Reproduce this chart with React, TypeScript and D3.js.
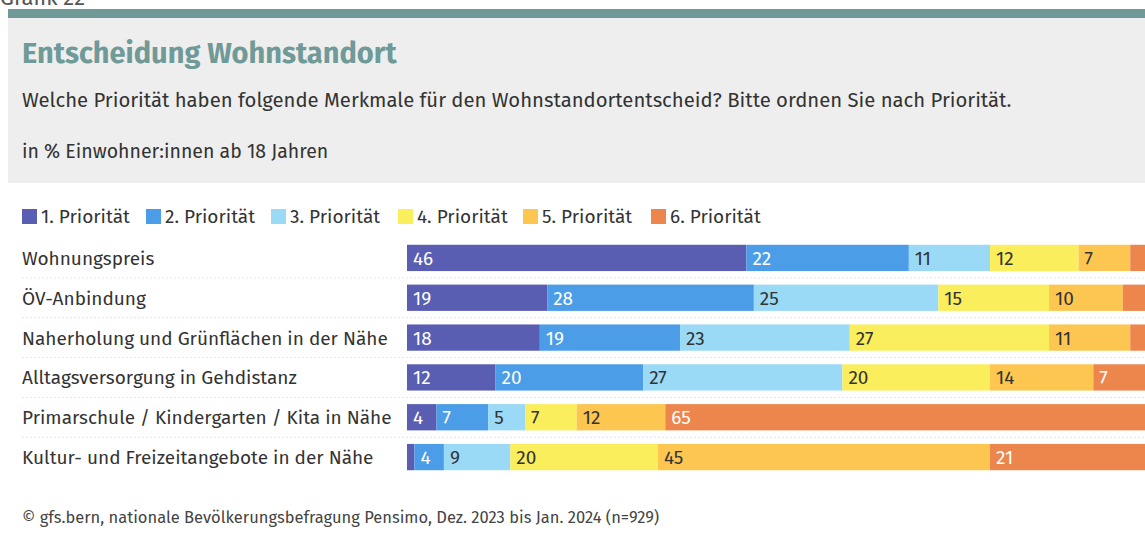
import * as d3 from "d3"

const categories = [
  "Wohnungspreis",
  "ÖV-Anbindung",
  "Naherholung und Grünflächen in der Nähe",
  "Alltagsversorgung in Gehdistanz",
  "Primarschule / Kindergarten / Kita in Nähe",
  "Kultur- und Freizeitangebote in der Nähe",
]
const seriesNames = ["1. Priorität", "2. Priorität", "3. Priorität", "4. Priorität", "5. Priorität", "6. Priorität"]
const prio1 = [46, 19, 18, 12, 4, 1]
const prio2 = [22, 28, 19, 20, 7, 4]
const prio3 = [11, 25, 23, 27, 5, 9]
const prio4 = [12, 15, 27, 20, 7, 20]
const prio5 = [7, 10, 11, 14, 12, 45]
const prio6 = [2, 3, 2, 7, 65, 21]

const colors = ["#5a5eb3", "#4a9de6", "#9adaf6", "#faee5c", "#fcc650", "#ec864c"]
const labelColors = ["#fff", "#fff", "#333", "#333", "#333", "#fff"]

const font = "'Fira Sans', 'Noto Sans', sans-serif"

export default function App() {
  const W = 1145
  const H = 541
  const allSeries = [prio1, prio2, prio3, prio4, prio5, prio6]
  const rows = categories.map((c, i) => {
    const r: Record<string, number | string> = { cat: c }
    seriesNames.forEach((s, j) => (r[s] = allSeries[j][i]))
    return r
  })
  const stack = d3.stack<Record<string, number | string>>().keys(seriesNames).value((d, k) => d[k] as number)
  const stacked = stack(rows)

  const x = d3.scaleLinear().domain([0, 100]).range([407, 1145])
  const y = d3.scaleBand().domain(categories).range([238, 477]).paddingInner(0.34).paddingOuter(0.17)

  const legendX = [22, 146, 271, 398, 523, 651]

  return (
    <svg width={W} height={H} style={{ position: "absolute", left: 0, top: 0, fontFamily: font }}>
      <rect x={0} y={0} width={W} height={H} fill="#fff" />
      <text x={0} y={5} fontSize={22} fill="#555">Grafik 22</text>
      <rect x={8} y={9} width={W - 8} height={9} fill="#6f9a98" />
      <rect x={8} y={18} width={W - 8} height={165} fill="#eeeeee" />
      <text x={22} y={63} fontSize={29} fontWeight={700} fill="#6f9a98">Entscheidung Wohnstandort</text>
      <text x={22} y={107} fontSize={20.3} fill="#333">
        Welche Priorität haben folgende Merkmale für den Wohnstandortentscheid? Bitte ordnen Sie nach Priorität.
      </text>
      <text x={22} y={158} fontSize={19.5} fill="#333">in % Einwohner:innen ab 18 Jahren</text>

      {seriesNames.map((s, i) => (
        <g key={s} transform={`translate(${legendX[i]},209)`}>
          <rect x={0} y={0} width={15} height={15} fill={colors[i]} />
          <text x={19} y={14} fontSize={19} fill="#333">{s}</text>
        </g>
      ))}

      {categories.map((c, i) => {
        const yc = (y(c) as number) + y.bandwidth() / 2
        return (
          <g key={c}>
            {i < categories.length - 1 && (
              <line x1={22} x2={W} y1={yc + 20} y2={yc + 20} stroke="#e6e6e6" strokeDasharray="2,2" />
            )}
            <text x={22} y={yc + 7} fontSize={19} fill="#333">{c}</text>
          </g>
        )
      })}

      {stacked.map((layer, si) => (
        <g key={layer.key}>
          {layer.map((d, ri) => {
            const x0 = x(d[0])
            const x1 = x(d[1])
            const yy = y(categories[ri]) as number
            const v = d[1] - d[0]
            return (
              <g key={ri}>
                <rect x={x0} y={yy} width={x1 - x0} height={y.bandwidth()} fill={colors[si]} />
                {v >= 4 && (
                  <text x={x0 + 6} y={yy + y.bandwidth() / 2 + 7} fontSize={19} fill={labelColors[si]}>
                    {v}
                  </text>
                )}
              </g>
            )
          })}
        </g>
      ))}

      <text x={22} y={523} fontSize={16.5} fill="#444">
        © gfs.bern, nationale Bevölkerungsbefragung Pensimo, Dez. 2023 bis Jan. 2024 (n=929)
      </text>
    </svg>
  )
}
